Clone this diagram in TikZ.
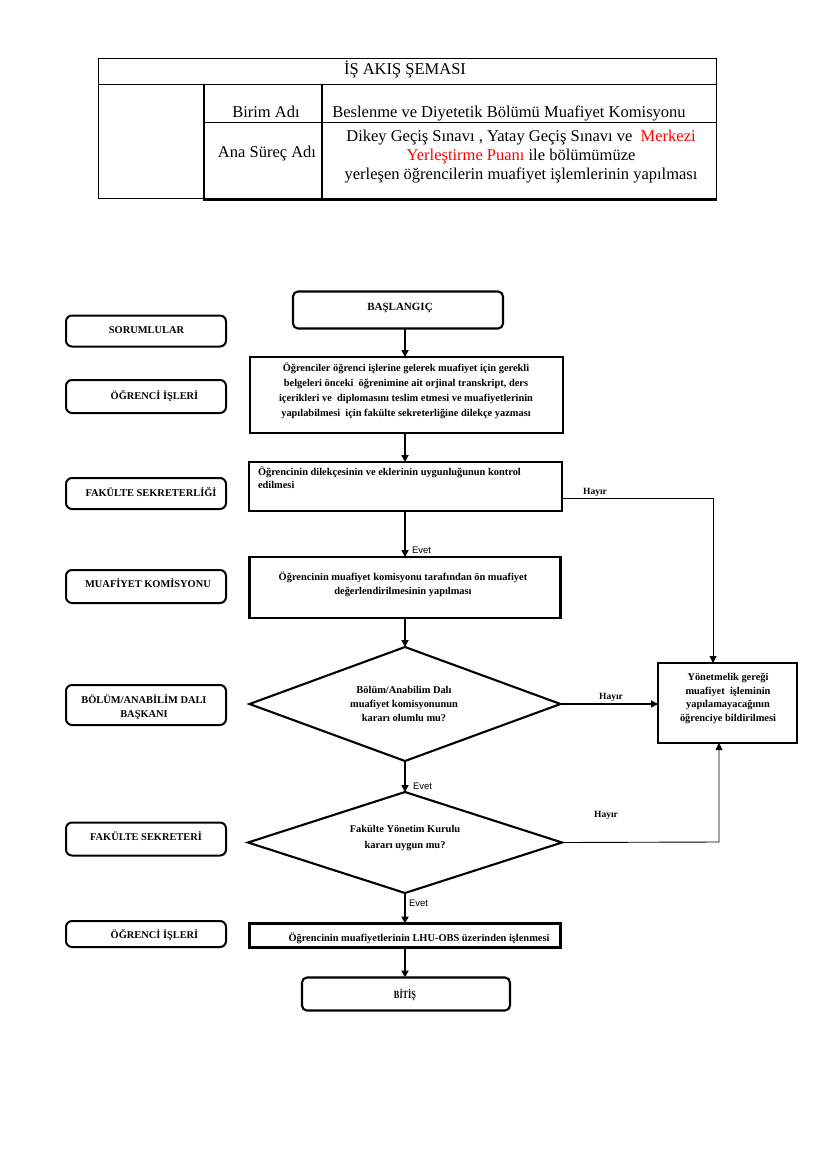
\documentclass[tikz,border=0pt]{standalone}
\usepackage{fontspec}
\setmainfont{Liberation Serif}
\newfontfamily\evetfont{Liberation Sans}
\newfontfamily\narrowserif[FakeStretch=0.75]{Liberation Serif}
\usetikzlibrary{arrows.meta,shapes.geometric}
\newcommand\flowfont[1]{\fontsize{10.4}{#1}\selectfont\bfseries}
\newcommand\headfont{\fontsize{16.5}{19.5}\selectfont}
\begin{document}
\begin{tikzpicture}[x=1pt,y=-1pt,
  every node/.style={inner sep=0pt,outer sep=0pt},
  box/.style={draw,line width=2.1pt},
  rbox/.style={draw,line width=2.1pt,rounded corners=5pt},
  dia/.style={draw,line width=2.1pt,diamond,aspect=2.8},
  lbl/.style={draw,line width=2pt,rounded corners=6pt,minimum width=160pt},
  tx/.style={align=center,anchor=base},
  txl/.style={align=left,anchor=base west},
  arr/.style={line width=2pt,-{Triangle[width=7pt,length=7pt]}},
  harr/.style={line width=0.9pt,-{Triangle[width=7pt,length=7pt]}},
  yes/.style={font=\evetfont\fontsize{9.5}{11}\selectfont,anchor=base west},
  no/.style={font=\fontsize{9.5}{11}\selectfont\bfseries,anchor=base},
]
\fill[white] (0,0) rectangle (827,1169);
\useasboundingbox (0,0) rectangle (827,1169);

% ---------- header table ----------
\draw[line width=0.9pt] (98,58) -- (716,58) -- (716,199);
\draw[line width=0.9pt] (98,58) -- (98,198) -- (204,198);
\draw[line width=0.9pt] (98,84) -- (716,84);
\draw[line width=0.9pt] (204,122) -- (716,122);
\draw[line width=1.6pt] (204,84) -- (204,200);
\draw[line width=1.8pt] (322,84) -- (322,200);
\draw[line width=2pt] (203,199.5) -- (717,199.5);

\node[font=\headfont,anchor=base] (title) at (405,75) {İŞ AKIŞ ŞEMASI};
\node[font=\headfont,anchor=base] (birim) at (266,117.5) {Birim Adı};
\node[font=\headfont,anchor=base] (birimv) at (509,117.5) {Beslenme ve Diyetetik Bölümü Muafiyet Komisyonu};
\node[font=\headfont,anchor=base] (anas) at (267,157.5) {Ana Süreç Adı};
\node[font=\headfont,tx] (anasv) at (521,180) {Dikey Geçiş Sınavı , Yatay Geçiş Sınavı ve\ \ \textcolor{red}{Merkezi}\\ \textcolor{red}{Yerleştirme Puanı} ile bölümümüze\\ yerleşen öğrencilerin muafiyet işlemlerinin yapılması};

% ---------- responsible units ----------
\node[lbl,minimum height=31pt] (r0) at (146,331) {};
\node[tx,font=\flowfont{12}] (r0t) at (146.5,333.5) {SORUMLULAR};
\node[lbl,minimum height=33pt] (r1) at (146,396.5) {};
\node[tx,font=\flowfont{12}] (r1t) at (154.5,399) {ÖĞRENCİ İŞLERİ};
\node[lbl,minimum height=31pt] (r2) at (146,493.5) {};
\node[tx,font=\flowfont{12}] (r2t) at (151,496.5) {FAKÜLTE SEKRETERLİĞİ};
\node[lbl,minimum height=33pt] (r3) at (146,586.5) {};
\node[tx,font=\flowfont{12}] (r3t) at (148,587) {MUAFİYET KOMİSYONU};
\node[lbl,minimum height=40pt] (r4) at (146,705) {};
\node[tx,font=\flowfont{13.5}] (r4t) at (144,717) {BÖLÜM/ANABİLİM DALI\\BAŞKANI};
\node[lbl,minimum height=33pt] (r5) at (146,839) {};
\node[tx,font=\flowfont{12}] (r5t) at (146,840.5) {FAKÜLTE SEKRETERİ};
\node[lbl,minimum height=26pt] (r6) at (146,934) {};
\node[tx,font=\flowfont{12}] (r6t) at (154.5,938.5) {ÖĞRENCİ İŞLERİ};

% ---------- flow ----------
\coordinate (spine) at (405,0);
\node[rbox,minimum width=210pt,minimum height=37pt] (start) at (398,310) {};
\node[tx,font=\fontsize{11}{13}\selectfont\bfseries] (startt) at (400,310) {BAŞLANGIÇ};

\node[box,minimum width=313pt,minimum height=76pt] (b1) at (406.5,395) {};
\node[tx,font=\flowfont{15}] (b1t) at (406,416.5) {Öğrenciler öğrenci işlerine gelerek muafiyet için gerekli\\belgeleri önceki\ \ öğrenimine ait orjinal transkript, ders\\içerikleri ve\ \ diplomasını teslim etmesi ve muafiyetlerinin\\yapılabilmesi\ \ için fakülte sekreterliğine dilekçe yazması};

\node[box,minimum width=313pt,minimum height=49pt] (b2) at (405.5,486.5) {};
\node[txl,font=\flowfont{12.8}] (b2t) at (258,488.5) {Öğrencinin dilekçesinin ve eklerinin uygunluğunun kontrol\\edilmesi};

\node[box,minimum width=311pt,minimum height=61pt] (b3) at (405,587.5) {};
\node[tx,font=\flowfont{13.5}] (b3t) at (403,594) {Öğrencinin muafiyet komisyonu tarafından ön muafiyet\\değerlendirilmesinin yapılması};

\node[dia,minimum width=311pt,minimum height=114pt] (d1) at (405,704) {};
\node[tx,font=\flowfont{14}] (d1t) at (404,721) {Bölüm/Anabilim Dalı\\muafiyet komisyonunun\\kararı olumlu mu?};

\node[box,minimum width=139pt,minimum height=80pt] (rb) at (727.5,703) {};
\node[tx,font=\flowfont{13.5}] (rbt) at (728,721) {Yönetmelik gereği\\muafiyet\ \ işleminin\\yapılamayacağının\\öğrenciye bildirilmesi};

\node[dia,minimum width=314pt,minimum height=101pt] (d2) at (405,842.5) {};
\node[tx,font=\flowfont{15.5}] (d2t) at (405,848) {Fakülte Yönetim Kurulu\\kararı uygun mu?};

\node[box,minimum width=311pt,minimum height=24pt] (b4) at (405,935.5) {};
\node[tx,font=\flowfont{12}] (b4t) at (419,941) {Öğrencinin muafiyetlerinin LHU-OBS üzerinden işlenmesi};

\node[rbox,minimum width=208pt,minimum height=33pt] (end) at (406,994) {};
\node[tx,font=\narrowserif\fontsize{11}{12}\selectfont\bfseries] (endt) at (405,998.5) {BİTİŞ};

% arrows
\draw[arr] (start.south -| spine) -- (b1.north -| spine);
\draw[arr] (b1.south -| spine) -- (b2.north -| spine);
\draw[arr] (b2.south -| spine) -- (b3.north -| spine);
\draw[arr] (b3.south -| spine) -- (d1.north);
\draw[arr] (d1.south) -- (d2.north);
\draw[arr] (d2.south) -- (b4.north -| spine);
\draw[arr] (b4.south -| spine) -- (end.north -| spine);

\node[yes] (e1) at (412,553) {Evet};
\node[yes] (e2) at (413,789.5) {Evet};
\node[yes] (e3) at (409,906.5) {Evet};

% Hayir branches
\coordinate (h1) at (713,498);
\draw[harr] (b2.east |- h1) -- (h1) -- (rb.north -| h1);
\node[no] (n1) at (595,494.5) {Hayır};

\draw[harr,line width=1.3pt] (d1.east) -- (rb.west |- d1.east);
\node[no] (n2) at (611,699.5) {Hayır};

\coordinate (h3) at (719,842);
\draw[harr] (d2.east) -- (h3) -- (rb.south -| h3);
\node[no] (n3) at (606,817.5) {Hayır};
\end{tikzpicture}
\end{document}
